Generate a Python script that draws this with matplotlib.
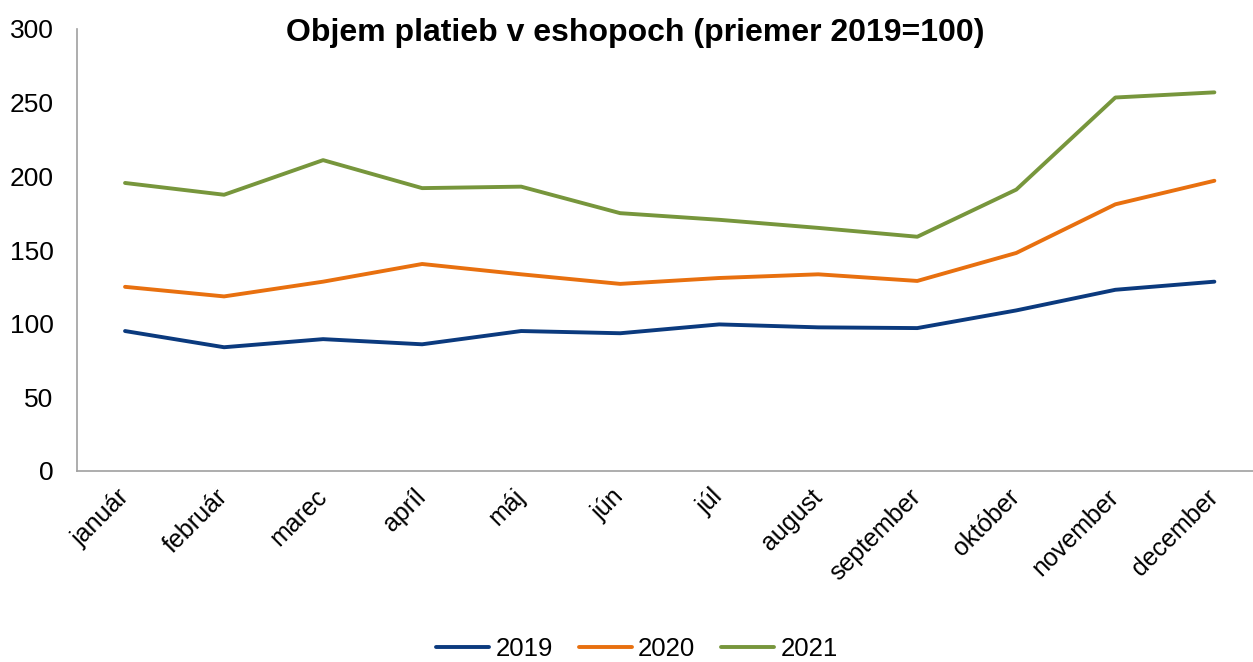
import matplotlib
matplotlib.use("Agg")
import matplotlib.pyplot as plt
import matplotlib.transforms as mtrans

months = ["január", "február", "marec", "apríl", "máj", "jún", "júl",
          "august", "september", "október", "november", "december"]
v2019 = [95, 84, 89.5, 86, 95, 93.5, 99.5, 97.5, 97, 109, 123, 128.5]
v2020 = [125, 118.5, 128.5, 140.5, 133.5, 127, 131, 133.5, 129, 148, 181, 197]
v2021 = [195.5, 187.5, 211, 192, 193, 175, 170.5, 165, 159, 191, 253.5, 257]
series = [("2019", v2019, "#0B3A7E"), ("2020", v2020, "#E8700F"), ("2021", v2021, "#77963C")]

plt.rcParams['font.family'] = ['Liberation Sans', 'DejaVu Sans']
fig = plt.figure(figsize=(12.53, 6.62), dpi=100)
ax = fig.add_axes([77/1253, (662-471)/662, (1253-77)/1253, (471-29)/662])
x = list(range(len(months)))
for name, vals, col in series:
    ax.plot(x, vals, color=col, lw=2.8, label=name, solid_capstyle='round', solid_joinstyle='round')

ax.set_ylim(0, 300)
ax.set_xlim(-0.485, 11.39)
ax.set_yticks(range(0, 301, 50))
ax.set_xticks(x)
ax.set_xticklabels(months, rotation=45, ha='right', va='center', rotation_mode='anchor', fontsize=18)
offset = mtrans.ScaledTranslation(8/100, 0, fig.dpi_scale_trans)
for lbl in ax.get_xticklabels():
    lbl.set_transform(lbl.get_transform() + offset)
ax.tick_params(axis='y', labelsize=19, length=0, pad=17)
ax.tick_params(axis='x', length=0, pad=16)
for s in ['top', 'right']:
    ax.spines[s].set_visible(False)
for s in ['left', 'bottom']:
    ax.spines[s].set_color('#A0A0A0')
    ax.spines[s].set_linewidth(1.2)

fig.text(635/1253, 1 - 33/662, "Objem platieb v eshopoch (priemer 2019=100)",
         ha='center', va='center', fontsize=23, fontweight='bold')
fig.legend(loc='center', bbox_to_anchor=(637/1253, 1 - 649/662), ncol=3, frameon=False,
           fontsize=18.5, handlelength=2.06, handletextpad=0.25, columnspacing=1.0)
fig.savefig("out.png", dpi=100)
